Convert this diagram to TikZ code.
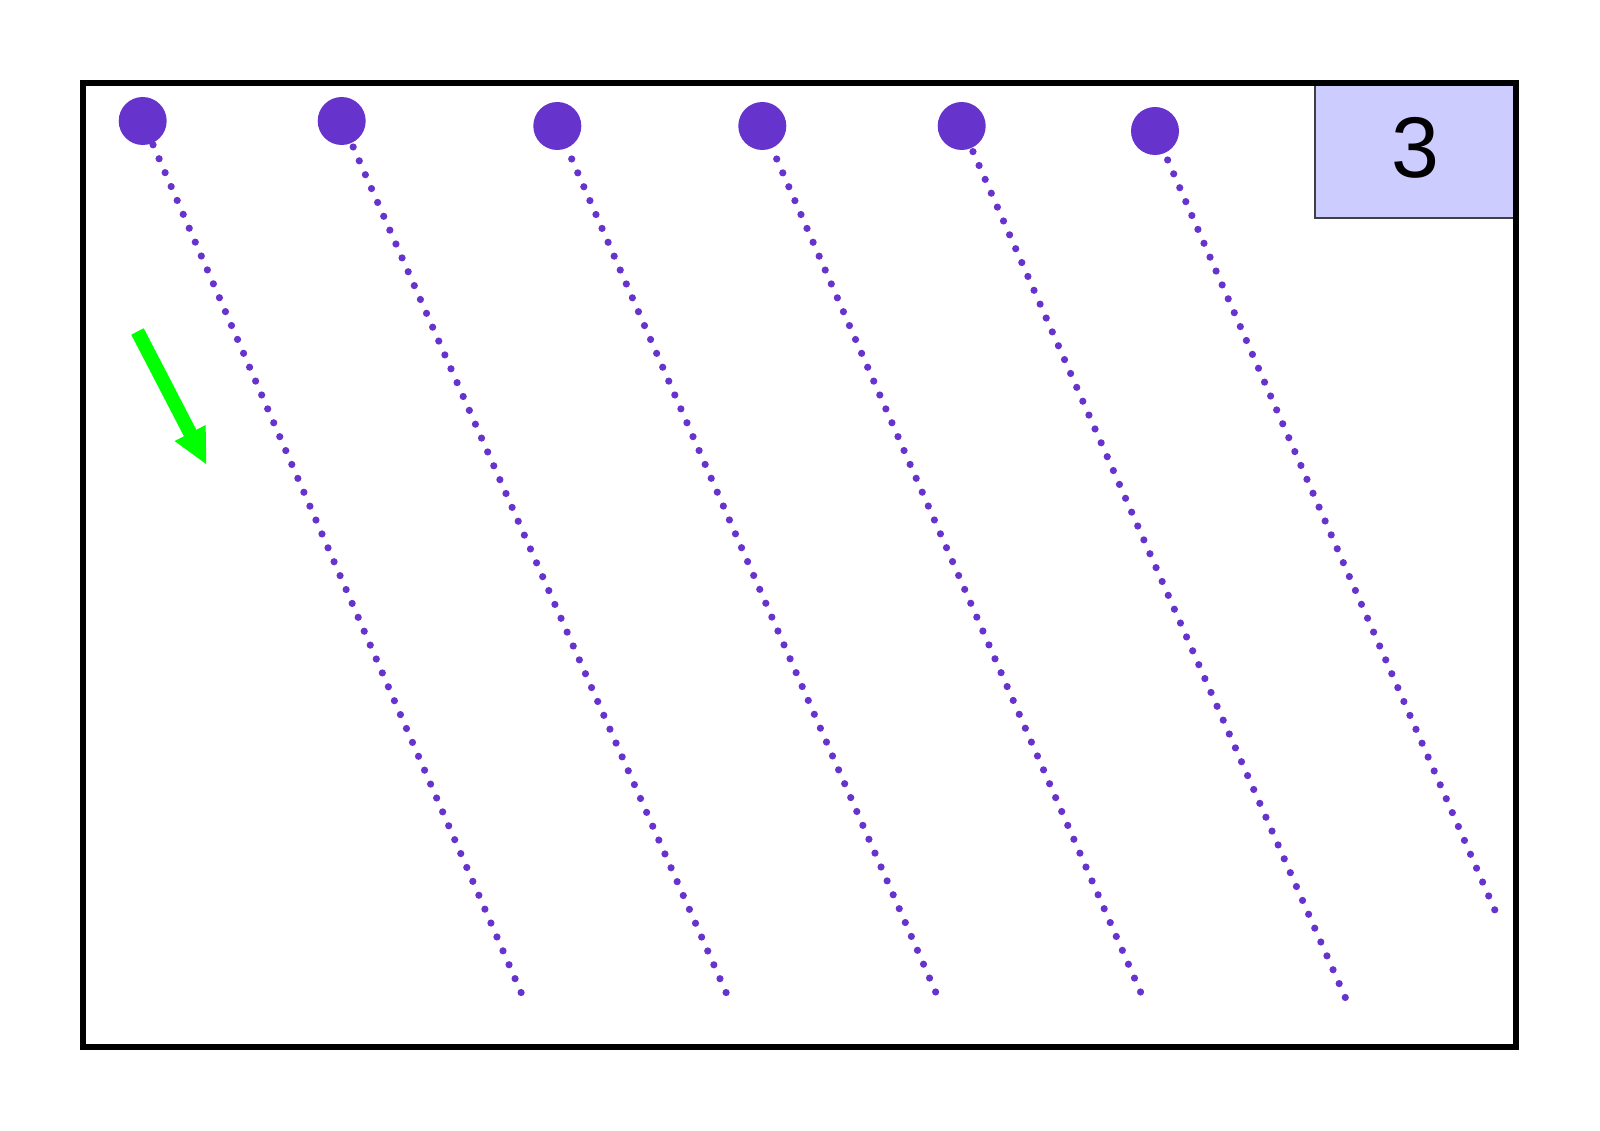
\documentclass[tikz,border=0pt]{standalone}
\usepackage{fontspec}
\setmainfont{Liberation Sans}
\usetikzlibrary{arrows.meta}
\definecolor{beadpurple}{RGB}{102,51,204}
\definecolor{tagblue}{RGB}{204,204,255}
\definecolor{flowgreen}{RGB}{0,255,0}

\begin{document}
\begin{tikzpicture}[x=0.1mm, y=-0.1mm,
  bead/.style={circle, fill=beadpurple, minimum size=4.8mm, inner sep=0pt, outer sep=0pt},
  trail/.style={beadpurple, line width=0.72mm, line cap=round, dash pattern=on 0pt off 1.515mm},
  flow/.style={-{Triangle[length=3.6mm, width=3.2mm]}, flowgreen, line width=1.4mm},
  tag/.style={rectangle, fill=tagblue, draw=black!75, line width=0.15mm,
    minimum width=20mm, minimum height=13.5mm, inner sep=0pt, text depth=0.7mm,
    font=\fontsize{24.5}{28}\selectfont},
  frame/.style={draw=black, line width=0.55mm}]
  \useasboundingbox (0,0) rectangle (1600,1131);
  % counter box in the corner
  \node[tag] (count) at (1415,150.5) {3};
  \draw[frame] (83,83) rectangle (1516,1047);
  % beads along the top
  \node[bead] (b1) at (142.7,121) {};
  \node[bead] (b2) at (341.7,121) {};
  \node[bead] (b3) at (557.3,126) {};
  \node[bead] (b4) at (762.3,126) {};
  \node[bead] (b5) at (961.7,126) {};
  \node[bead] (b6) at (1155,131) {};
  % where the trails end
  \coordinate (e1) at (522.3,995.3);
  \coordinate (e2) at (727.3,995.3);
  \coordinate (e3) at (937.1,995.3);
  \coordinate (e4) at (1142,995.3);
  \coordinate (e5) at (1346.5,1000.3);
  \coordinate (e6) at (1496,912.7);
  \draw[trail, shorten <=0.2mm] (b1) -- (e1);
  \draw[trail, shorten <=0.44mm] (b2) -- (e2);
  \draw[trail, shorten <=1.2mm] (b3) -- (e3);
  \draw[trail, shorten <=1.2mm] (b4) -- (e4);
  \draw[trail, shorten <=0.4mm] (b5) -- (e5);
  \draw[trail, shorten <=0.76mm] (b6) -- (e6);
  % direction of motion
  \coordinate (flowtail) at (137.5,331.5);
  \coordinate (flowtip) at (206.7,465);
  \draw[flow] (flowtail) -- (flowtip);
\end{tikzpicture}
\end{document}
